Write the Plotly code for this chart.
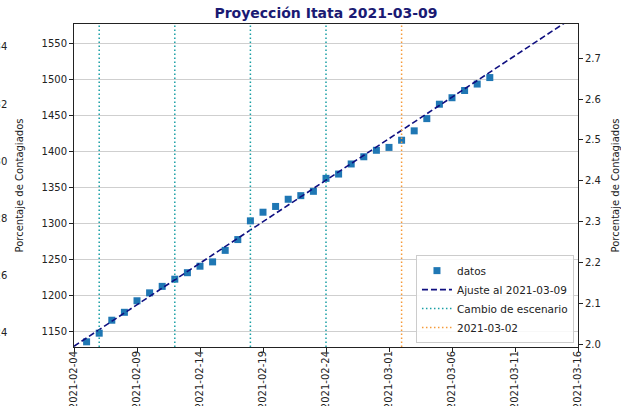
import plotly.graph_objects as go

# ---- data ----
dates = ["2021-02-05", "2021-02-06", "2021-02-07", "2021-02-08", "2021-02-09", "2021-02-10",
         "2021-02-11", "2021-02-12", "2021-02-13", "2021-02-14", "2021-02-15", "2021-02-16",
         "2021-02-17", "2021-02-18", "2021-02-19", "2021-02-20", "2021-02-21", "2021-02-22",
         "2021-02-23", "2021-02-24", "2021-02-25", "2021-02-26", "2021-02-27", "2021-02-28",
         "2021-03-01", "2021-03-02", "2021-03-03", "2021-03-04", "2021-03-05", "2021-03-06",
         "2021-03-07", "2021-03-08", "2021-03-09"]
datos = [1135, 1147, 1165, 1176, 1192, 1203, 1212, 1222, 1231, 1240, 1246, 1262,
         1277, 1303, 1315, 1323, 1333, 1338, 1344, 1362, 1368, 1382, 1392, 1401,
         1405, 1415, 1428, 1445, 1465, 1474, 1484, 1493, 1502]
fit_dates = ["2021-02-04", "2021-03-16"]
fit_values = [1128.9, 1590.1]
cambio_dates = ["2021-02-06", "2021-02-12", "2021-02-18", "2021-02-24"]
ref_date = "2021-03-02"
x_range = ["2021-02-04", "2021-03-16"]
y_range = [1127.8, 1576.4]
y2_range = [1.993, 2.784]
y3_range = [0.2351, 0.348]

title = "Proyección Itata 2021-03-09"
FONT = "DejaVu Sans"
TEAL = "#1a9fa5"
ORANGE = "#f59a3a"

fig = go.Figure()
fig.add_trace(go.Scatter(x=dates, y=datos, mode="markers", name="datos",
                         marker=dict(symbol="square", size=7, color="#1f77b4")))
fig.add_trace(go.Scatter(x=fit_dates, y=fit_values, mode="lines", name="Ajuste al 2021-03-09",
                         line=dict(color="#0f0f80", width=1.6, dash="6px,3px")))
# dummy traces to attach secondary axes
fig.add_trace(go.Scatter(x=[x_range[0]], y=[None], yaxis="y2", showlegend=False, hoverinfo="skip"))
fig.add_trace(go.Scatter(x=[x_range[0]], y=[None], yaxis="y3", showlegend=False, hoverinfo="skip"))

for i, d in enumerate(cambio_dates):
    fig.add_shape(type="line", xref="x", yref="paper", x0=d, x1=d, y0=0, y1=1,
                  line=dict(color=TEAL, width=1.5, dash="1.5px,2.5px"),
                  name="Cambio de escenario", showlegend=(i == 0), legendgroup="cambio")
fig.add_shape(type="line", xref="x", yref="paper", x0=ref_date, x1=ref_date, y0=0, y1=1,
              line=dict(color=ORANGE, width=1.5, dash="1.5px,2.5px"),
              name="2021-03-02", showlegend=True)

tickfont = dict(family=FONT, size=10, color="#222")
fig.update_layout(
    width=621, height=406,
    margin=dict(l=74, r=43, t=24, b=59, autoexpand=False),
    paper_bgcolor="white", plot_bgcolor="white",
    font=dict(family=FONT, size=10, color="#222"),
    title=dict(text="<b>" + title + "</b>", x=0.5, xref="paper", xanchor="center",
               y=0.967, yanchor="middle", automargin=False,
               font=dict(family=FONT, size=14, color="#1a1a73")),
    showlegend=True,
    legend=dict(x=0.992, y=0.012, xanchor="right", yanchor="bottom",
                bgcolor="rgba(255,255,255,0.85)", bordercolor="#cccccc", borderwidth=1,
                font=dict(family=FONT, size=10.5, color="#222"), tracegroupgap=0,
                itemwidth=30),
    xaxis=dict(range=x_range, type="date", tick0="2021-02-04", dtick=5 * 86400000,
               tickformat="%Y-%m-%d", tickangle=-90, ticks="outside", ticklen=4,
               ticklabelstandoff=-5,
               tickcolor="#222", tickfont=tickfont, showgrid=False, automargin=False,
               showline=True, linecolor="#222", linewidth=1, mirror=True, zeroline=False),
    yaxis=dict(range=y_range, tick0=1150, dtick=50, ticks="outside", ticklen=4,
               tickcolor="#222", tickfont=tickfont, showgrid=True, gridcolor="#cfcfcf",
               gridwidth=1, showline=True, linecolor="#222", linewidth=1, mirror=True,
               zeroline=False, automargin=False),
    yaxis2=dict(range=y2_range, overlaying="y", side="right", anchor="x", tick0=2.0, dtick=0.1,
                tickformat=".1f", ticks="outside", ticklen=4, tickcolor="#222",
                tickfont=tickfont, showgrid=False, zeroline=False, automargin=False,
                title=dict(text="Porcentaje de Contagiados", standoff=15,
                           font=dict(family=FONT, size=10, color="#222"))),
    yaxis3=dict(range=y3_range, overlaying="y", side="right", anchor="free", position=0,
                autoshift=False, shift=-96, tick0=0.24, dtick=0.02, tickformat=".2f",
                ticks="outside", ticklen=4, tickcolor="#222", tickfont=tickfont,
                showgrid=False, zeroline=False, showline=False, automargin=False,
                title=dict(text="Porcentaje de Contagiados", standoff=9,
                           font=dict(family=FONT, size=10, color="#222"))),
)

fig.write_html("out.html", config={"displayModeBar": False},
               post_script="document.body.style.margin='0px';document.body.style.overflow='hidden';")
